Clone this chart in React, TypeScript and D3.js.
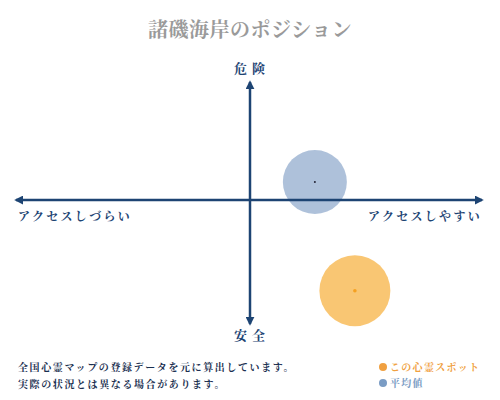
import React from "react";
import * as d3 from "d3";

const title = "諸磯海岸のポジション";
const axisLabels = { top: "危険", bottom: "安全", left: "アクセスしづらい", right: "アクセスしやすい" };
const seriesNames = ["平均値", "この心霊スポット"];
const xValues = [1.41, 2.28];
const yValues = [0.75, -3.78];
const sizeValues = [1.0, 1.23];
const noteLines = ["全国心霊マップの登録データを元に算出しています。", "実際の状況とは異なる場合があります。"];
const legendNames = ["この心霊スポット", "平均値"];

const W = 500, H = 400;
const navy = "#1d4473";
const font = "'Noto Serif CJK JP', 'Noto Sans CJK JP', serif";

export default function App() {
  const x = d3.scaleLinear().domain([-5, 5]).range([20, 480]);
  const y = d3.scaleLinear().domain([-5, 5]).range([320, 80]);
  const r = d3.scaleSqrt().domain([0, 1]).range([0, 32]);
  const fills = ["rgba(120,152,194,0.6)", "rgba(248,184,80,0.8)"];
  const dots = ["#223", "#f5a020"];
  const legendColors = ["#f0a040", "#7a9cc4"];
  const cx = x(0), cy = y(0);
  return (
    <svg width={W} height={H} style={{ position: "absolute", left: 0, top: 0 }} fontFamily={font}>
      <rect width={W} height={H} fill="#fff" />
      <text x={250} y={37} textAnchor="middle" fontSize={20} fill="#9a9a9a" fontWeight="bold" letterSpacing={0.5}>{title}</text>
      {xValues.map((v, i) => (
        <g key={seriesNames[i]}>
          <circle cx={x(v)} cy={y(yValues[i])} r={r(sizeValues[i])} fill={fills[i]} />
          <circle cx={x(v)} cy={y(yValues[i])} r={i === 0 ? 1 : 1.8} fill={dots[i]} />
        </g>
      ))}
      <defs>
        <marker id="ah" viewBox="0 0 10 10" refX="8" refY="5" markerWidth="3.6" markerHeight="3.6" orient="auto-start-reverse">
          <path d="M0,0 L10,5 L0,10 z" fill={navy} />
        </marker>
      </defs>
      <line x1={16} x2={482} y1={cy} y2={cy} stroke={navy} strokeWidth={2.5} markerStart="url(#ah)" markerEnd="url(#ah)" />
      <line x1={cx} x2={cx} y1={82} y2={324} stroke={navy} strokeWidth={2.5} markerStart="url(#ah)" markerEnd="url(#ah)" />
      <text x={252} y={73} textAnchor="middle" fontSize={13} fill={navy} fontWeight="bold" letterSpacing={5}>{axisLabels.top}</text>
      <text x={252} y={340} textAnchor="middle" fontSize={13} fill={navy} fontWeight="bold" letterSpacing={5}>{axisLabels.bottom}</text>
      <text x={18} y={221} fontSize={12} fill={navy} fontWeight="bold" letterSpacing={2.3}>{axisLabels.left}</text>
      <text x={482} y={221} textAnchor="end" fontSize={12} fill={navy} fontWeight="bold" letterSpacing={2.3}>{axisLabels.right}</text>
      {noteLines.map((t, i) => (
        <text key={i} x={18} y={371 + i * 17} fontSize={10} fill="#1a2f50" fontWeight="bold" letterSpacing={1.6}>{t}</text>
      ))}
      {legendNames.map((t, i) => (
        <g key={t}>
          <circle cx={383} cy={367 + i * 16} r={4} fill={legendColors[i]} />
          <text x={390} y={371 + i * 16} fontSize={10} fill={legendColors[i]} fontWeight="bold" letterSpacing={1.3}>{t}</text>
        </g>
      ))}
    </svg>
  );
}
